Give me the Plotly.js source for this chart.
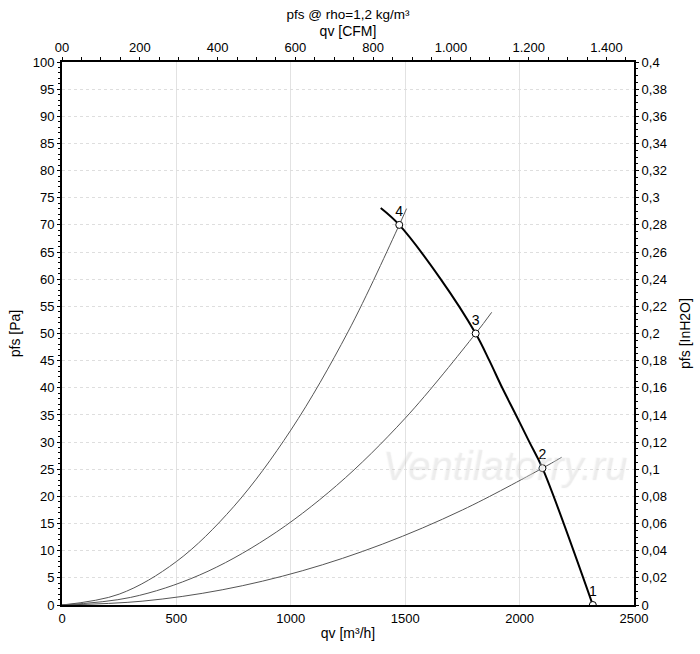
<!DOCTYPE html>
<html>
<head>
<meta charset="utf-8">
<script src="https://cdn.plot.ly/plotly-3.0.1.min.js"></script>
<style>body{margin:0;background:#fff}</style>
</head>
<body>
<div id="chart" style="width:700px;height:654px"></div>
<script>
// fan curve pfs vs qv
const qvFan = [1393, 1474, 1652, 1808, 1868, 1924, 1984, 2043, 2100, 2320];
const pfsFan = [73.1, 70, 60.2, 50, 45, 40, 35, 30, 25.2, 0];

// system curves through operating points 4, 3, 2
const qvSys4 = [0, 250, 500, 750, 1000, 1250, 1474, 1506];
const pfsSys4 = [0, 2.0, 8.0, 18.1, 32.2, 50.3, 70, 73.0];
const qvSys3 = [0, 300, 600, 900, 1200, 1500, 1808, 1878];
const pfsSys3 = [0, 1.4, 5.5, 12.4, 22.0, 34.4, 50, 53.9];
const qvSys2 = [0, 350, 700, 1050, 1400, 1750, 2100, 2184];
const pfsSys2 = [0, 0.7, 2.8, 6.3, 11.2, 17.5, 25.2, 27.2];

// operating points
const qvPts = [2320, 2100, 1808, 1474];
const pfsPts = [0, 25.2, 50, 70];
const ptLabels = ['1', '2', '3', '4'];

// top axis ticks (CFM)
const cfmTicks = [0, 200, 400, 600, 800, 1000, 1200, 1400];
const cfmText = ['00', '200', '400', '600', '800', '1.000', '1.200', '1.400'];

const font = { family: 'Liberation Sans, Arial, sans-serif', size: 13, color: '#000' };

const sysLine = { color: '#555', width: 1, shape: 'spline' };

const traces = [
  { x: qvSys4, y: pfsSys4, mode: 'lines', line: sysLine, hoverinfo: 'skip' },
  { x: qvSys3, y: pfsSys3, mode: 'lines', line: sysLine, hoverinfo: 'skip' },
  { x: qvSys2, y: pfsSys2, mode: 'lines', line: sysLine, hoverinfo: 'skip' },
  {
    x: qvFan,
    y: pfsFan,
    mode: 'lines',
    line: { color: '#000', width: 2, shape: 'spline' },
  },
  {
    x: qvPts,
    y: pfsPts,
    mode: 'markers+text',
    text: ptLabels,
    textposition: 'top center',
    textfont: { family: font.family, size: 14, color: '#000' },
    marker: { symbol: 'circle', size: 7, color: '#fff', line: { color: '#000', width: 1 } },
  },
  // empty trace so the secondary axes are laid out
  { x: [], y: [], xaxis: 'x2', yaxis: 'y2', hoverinfo: 'skip' },
];

const titleFont = { size: 14 };

const layout = {
  width: 700,
  height: 654,
  font: font,
  separators: ',.',
  showlegend: false,
  paper_bgcolor: '#fff',
  plot_bgcolor: '#fff',
  margin: { l: 62, r: 66, t: 62, b: 49 },
  title: {
    text: 'pfs @ rho=1,2 kg/m³',
    x: 0.5,
    xref: 'paper',
    y: 1 - 14 / 654,
    yanchor: 'middle',
    font: { size: 13.5 },
  },
  xaxis: {
    range: [0, 2500],
    dtick: 500,
    showgrid: true,
    gridcolor: '#e2e2e2',
    zeroline: false,
    showline: true,
    linecolor: '#000',
    linewidth: 2,
    ticks: '',
    title: { text: 'qv [m³/h]', standoff: 4, font: titleFont },
  },
  yaxis: {
    range: [0, 100],
    dtick: 5,
    showgrid: true,
    gridcolor: '#dedede',
    griddash: 'dot',
    zeroline: false,
    showline: true,
    linecolor: '#000',
    linewidth: 2,
    ticks: 'outside',
    ticklen: 3,
    tickcolor: '#000',
    minor: { dtick: 1, ticks: 'outside', ticklen: 2, tickcolor: '#000', showgrid: false },
    title: { text: 'pfs [Pa]', standoff: 9, font: titleFont },
  },
  xaxis2: {
    overlaying: 'x',
    side: 'top',
    anchor: 'y',
    range: [0, 1470.6],
    tickvals: cfmTicks,
    ticktext: cfmText,
    showgrid: false,
    zeroline: false,
    showline: true,
    linecolor: '#000',
    linewidth: 2,
    ticks: 'outside',
    ticklen: 3,
    tickcolor: '#000',
    minor: { dtick: 50, ticks: 'outside', ticklen: 3, tickcolor: '#000', showgrid: false },
    title: { text: 'qv [CFM]', standoff: 0, font: titleFont },
  },
  yaxis2: {
    overlaying: 'y',
    side: 'right',
    anchor: 'x',
    range: [0, 0.4],
    dtick: 0.02,
    showgrid: false,
    zeroline: false,
    showline: true,
    linecolor: '#000',
    linewidth: 2,
    ticks: 'outside',
    ticklen: 3,
    tickcolor: '#000',
    minor: { dtick: 0.005, ticks: 'outside', ticklen: 2, tickcolor: '#000', showgrid: false },
    title: { text: 'pfs [InH2O]', standoff: 14, font: titleFont },
  },
  annotations: [
    {
      text: 'Ventilatorry.ru',
      xref: 'x',
      yref: 'y',
      x: 1936,
      y: 25.8,
      showarrow: false,
      font: { family: 'Liberation Sans, Arial, sans-serif', size: 40, style: 'italic', color: 'rgba(245,245,245,0.3)', shadow: '1px 1px 1px rgba(160,160,160,0.7)' },
    },
  ],
};

const config = { displayModeBar: false, staticPlot: true };

Plotly.newPlot('chart', traces, layout, config);
</script>
</body>
</html>
